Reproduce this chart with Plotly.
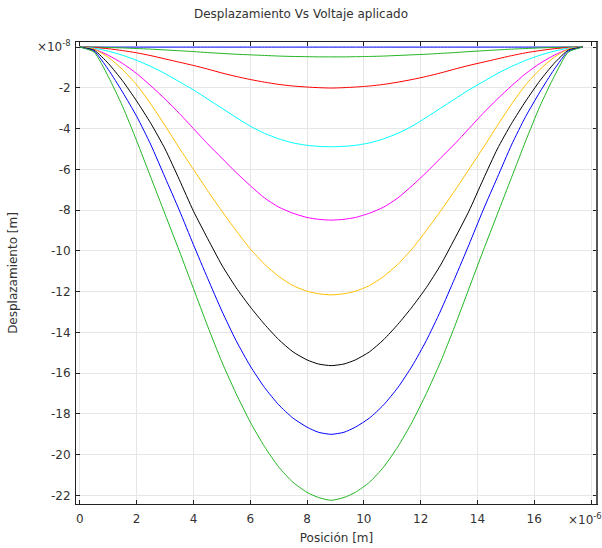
import plotly.graph_objects as go

# Position (x10^-6 m)
pos = [0, 0.5, 1, 1.5, 2, 2.5, 3, 3.5, 4, 4.5, 5, 5.5, 6, 6.5, 7, 7.5, 8, 8.4, 8.85,
       9.3, 9.7, 10.2, 10.7, 11.2, 11.7, 12.2, 12.7, 13.2, 13.7, 14.2, 14.7, 15.2, 15.7,
       16.2, 16.7, 17.2, 17.7]

# Displacement (x10^-8 m), one list per applied voltage
d0 = [0, 0, 0, 0, 0, 0, 0, 0, 0, 0, 0, 0, 0, 0, 0, 0, 0, 0, 0,
      0, 0, 0, 0, 0, 0, 0, 0, 0, 0, 0, 0, 0, 0, 0, 0, 0, 0]
d1 = [0, 0, -0.02, -0.04, -0.07, -0.1, -0.14, -0.18, -0.22, -0.27, -0.31, -0.35, -0.38,
      -0.41, -0.44, -0.46, -0.47, -0.48, -0.48,
      -0.48, -0.47, -0.46, -0.44, -0.41, -0.38, -0.35, -0.31, -0.27, -0.22, -0.18, -0.14,
      -0.1, -0.07, -0.04, -0.02, 0, 0]
d2 = [0, -0.02, -0.08, -0.17, -0.28, -0.42, -0.58, -0.74, -0.9, -1.08, -1.27, -1.44, -1.59,
      -1.72, -1.83, -1.91, -1.96, -1.99, -2.01,
      -1.99, -1.96, -1.91, -1.83, -1.72, -1.59, -1.44, -1.27, -1.08, -0.9, -0.74, -0.58,
      -0.42, -0.28, -0.17, -0.08, -0.02, 0]
d3 = [0, -0.05, -0.2, -0.4, -0.65, -0.95, -1.3, -1.7, -2.1, -2.55, -3.0, -3.45, -3.88,
      -4.23, -4.5, -4.7, -4.82, -4.87, -4.89,
      -4.87, -4.82, -4.7, -4.5, -4.23, -3.88, -3.45, -3.0, -2.55, -2.1, -1.7, -1.3,
      -0.95, -0.65, -0.4, -0.2, -0.05, 0]
d4 = [0, -0.1, -0.4, -0.8, -1.3, -1.9, -2.55, -3.25, -4.0, -4.75, -5.45, -6.15, -6.8,
      -7.4, -7.85, -8.15, -8.36, -8.45, -8.49,
      -8.45, -8.36, -8.15, -7.85, -7.4, -6.8, -6.15, -5.45, -4.75, -4.0, -3.25, -2.55,
      -1.9, -1.3, -0.8, -0.4, -0.1, 0]
d5 = [0, -0.1, -0.5, -1.1, -1.85, -2.8, -3.85, -4.95, -6.0, -7.05, -8.05, -9.0, -9.9,
      -10.65, -11.25, -11.7, -11.98, -12.1, -12.16,
      -12.1, -11.98, -11.7, -11.25, -10.65, -9.9, -9.0, -8.05, -7.05, -6.0, -4.95, -3.85,
      -2.8, -1.85, -1.1, -0.5, -0.1, 0]
d6 = [0, -0.15, -0.8, -1.65, -2.65, -3.75, -5.0, -6.5, -8.05, -9.4, -10.7, -11.8, -12.75,
      -13.6, -14.35, -14.95, -15.35, -15.55, -15.63,
      -15.55, -15.35, -14.95, -14.35, -13.6, -12.75, -11.8, -10.7, -9.4, -8.05, -6.5, -5.0,
      -3.75, -2.65, -1.65, -0.8, -0.15, 0]
d7 = [0, -0.2, -1.1, -2.2, -3.4, -4.8, -6.4, -8.0, -9.7, -11.35, -12.95, -14.4, -15.65,
      -16.7, -17.55, -18.2, -18.65, -18.9, -19.0,
      -18.9, -18.65, -18.2, -17.55, -16.7, -15.65, -14.4, -12.95, -11.35, -9.7, -8.0, -6.4,
      -4.8, -3.4, -2.2, -1.1, -0.2, 0]
d8 = [0, -0.25, -1.45, -2.9, -4.6, -6.4, -8.2, -10.0, -11.85, -13.7, -15.45, -17.0, -18.4,
      -19.6, -20.6, -21.35, -21.85, -22.1, -22.24,
      -22.1, -21.85, -21.35, -20.6, -19.6, -18.4, -17.0, -15.45, -13.7, -11.85, -10.0, -8.2,
      -6.4, -4.6, -2.9, -1.45, -0.25, 0]

series = [d0, d1, d2, d3, d4, d5, d6, d7, d8]
colors = ["#0000ff", "#22b522", "#ff0000", "#00ffff", "#ff00ff", "#ffbf00",
          "#000000", "#0000ff", "#22b522"]

y_tickvals = [0, -2, -4, -6, -8, -10, -12, -14, -16, -18, -20, -22]
y_ticktext = ["×10<sup>-8</sup>", "-2", "-4", "-6", "-8", "-10", "-12", "-14", "-16",
              "-18", "-20", "-22"]
x_tickvals = [0, 2, 4, 6, 8, 10, 12, 14, 16, 18]
x_ticktext = ["0", "2", "4", "6", "8", "10", "12", "14", "16", ""]
x_exp_label = "×10<sup>-6</sup>"

fig = go.Figure()
for ys, c in zip(series, colors):
    fig.add_trace(go.Scatter(x=pos, y=ys, mode="lines",
                             line=dict(color=c, width=1, shape="spline", smoothing=0.6),
                             showlegend=False, hoverinfo="skip"))

fig.update_layout(
    width=602, height=548,
    margin=dict(l=76, r=5, t=42, b=44, autoexpand=False),
    paper_bgcolor="white", plot_bgcolor="white",
    font=dict(family="DejaVu Sans", size=12, color="#333333"),
    title=dict(text="Desplazamiento Vs Voltaje aplicado", x=0.5, xref="container",
               y=0.9745, yref="container", yanchor="middle",
               font=dict(size=12, color="#333333")),
)
fig.update_xaxes(
    range=[-0.137, 18.21], tickvals=x_tickvals, ticktext=x_ticktext, automargin=False,
    showgrid=True, gridcolor="#e6e6e6", gridwidth=1, zeroline=False,
    showline=True, linecolor="#222222", linewidth=1, mirror="ticks",
    ticks="inside", ticklen=4, tickcolor="#222222", ticklabelstandoff=4,
    title=dict(text="Posición [m]", standoff=8, font=dict(size=12)),
)
fig.update_yaxes(
    range=[-22.42, 0.25], tickvals=y_tickvals, ticktext=y_ticktext, automargin=False,
    showgrid=True, gridcolor="#e6e6e6", gridwidth=1, zeroline=False,
    showline=True, linecolor="#222222", linewidth=1, mirror="ticks",
    ticks="inside", ticklen=4, tickcolor="#222222", ticklabelstandoff=2,
    title=dict(text="Desplazamiento [m]", standoff=16, font=dict(size=12)),
)
fig.add_annotation(text=x_exp_label, x=18, xref="x", y=0, yref="paper",
                   yanchor="top", xanchor="center", xshift=-6, yshift=-5,
                   showarrow=False, font=dict(size=12, color="#333333"))
# right-edge darker frame
fig.add_shape(type="line", xref="paper", yref="paper", x0=1, x1=1, y0=0, y1=1,
              line=dict(color="#555555", width=2))

fig.write_html("out.html", config={"displayModeBar": False},
               post_script="document.body.style.margin='0px';document.body.style.overflow='hidden';")
